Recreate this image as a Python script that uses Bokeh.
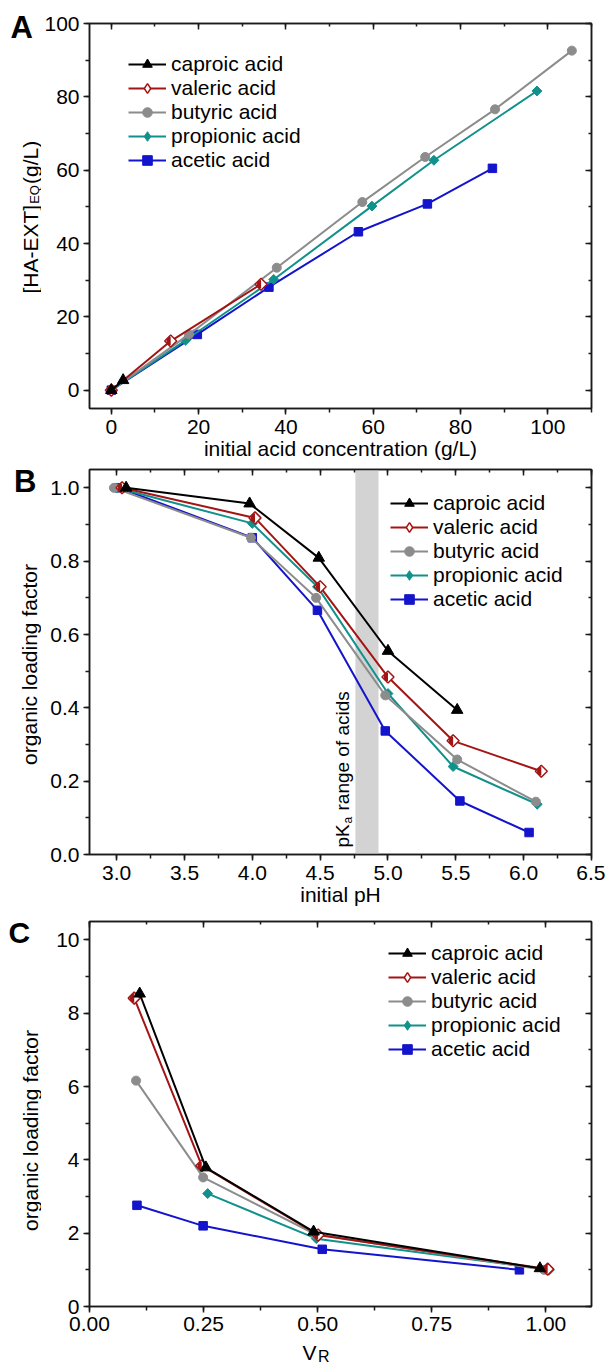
import math
from bokeh.plotting import figure
from bokeh.models import (ColumnDataSource, LinearAxis, SingleIntervalTicker, NumeralTickFormatter,
                          CustomJSTickFormatter, Legend, LegendItem, Label, BoxAnnotation, Range1d)
from bokeh.layouts import column, row
from bokeh.embed import file_html
from bokeh.resources import INLINE

FONT = "Liberation Sans"

# ---------------- series names / colours ----------------
names = ["caproic acid", "valeric acid", "butyric acid", "propionic acid", "acetic acid"]
colors = ["#000000", "#a31515", "#8c8c8c", "#11918b", "#1414cc"]
kinds = ["triangle", "half", "circle", "diamond", "square"]

# ---------------- Panel A ----------------
a_caproic_x = [0.0, 2.7]
a_caproic_y = [0.0, 2.7]
a_valeric_x = [0.0, 13.6, 34.3]
a_valeric_y = [0.0, 13.4, 28.9]
a_butyric_x = [0.0, 17.8, 37.9, 57.5, 71.9, 87.9, 105.5]
a_butyric_y = [0.0, 15.2, 33.4, 51.3, 63.6, 76.6, 92.6]
a_propionic_x = [0.0, 17.0, 37.2, 59.7, 73.9, 97.5]
a_propionic_y = [0.0, 13.6, 30.2, 50.2, 62.7, 81.6]
a_acetic_x = [0.0, 19.7, 36.1, 56.6, 72.4, 87.3]
a_acetic_y = [0.0, 15.2, 28.1, 43.2, 50.8, 60.5]

# ---------------- Panel B ----------------
b_caproic_x = [3.07, 3.98, 4.49, 5.00, 5.51]
b_caproic_y = [1.0, 0.957, 0.809, 0.555, 0.394]
b_valeric_x = [3.04, 4.02, 4.50, 5.00, 5.48, 6.13]
b_valeric_y = [1.0, 0.918, 0.730, 0.484, 0.310, 0.227]
b_butyric_x = [2.98, 3.99, 4.47, 4.98, 5.51, 6.09]
b_butyric_y = [1.0, 0.864, 0.700, 0.434, 0.259, 0.144]
b_propionic_x = [3.00, 4.00, 4.48, 5.00, 5.48, 6.10]
b_propionic_y = [1.0, 0.903, 0.730, 0.439, 0.240, 0.137]
b_acetic_x = [3.02, 4.00, 4.48, 4.98, 5.53, 6.04]
b_acetic_y = [1.0, 0.864, 0.666, 0.337, 0.146, 0.060]
pka_band = [4.76, 4.93]

# ---------------- Panel C ----------------
c_caproic_x = [0.110, 0.255, 0.491, 0.987]
c_caproic_y = [8.53, 3.79, 2.04, 1.04]
c_valeric_x = [0.098, 0.246, 0.501, 1.004]
c_valeric_y = [8.41, 3.84, 1.95, 1.02]
c_butyric_x = [0.102, 0.249, 0.495, 0.996]
c_butyric_y = [6.16, 3.52, 1.97, 1.00]
c_propionic_x = [0.259, 0.497, 1.008]
c_propionic_y = [3.08, 1.85, 1.00]
c_acetic_x = [0.104, 0.249, 0.510, 0.942]
c_acetic_y = [2.76, 2.20, 1.56, 1.00]

panel_a = [(a_caproic_x, a_caproic_y), (a_valeric_x, a_valeric_y), (a_butyric_x, a_butyric_y),
           (a_propionic_x, a_propionic_y), (a_acetic_x, a_acetic_y)]
panel_b = [(b_caproic_x, b_caproic_y), (b_valeric_x, b_valeric_y), (b_butyric_x, b_butyric_y),
           (b_propionic_x, b_propionic_y), (b_acetic_x, b_acetic_y)]
panel_c = [(c_caproic_x, c_caproic_y), (c_valeric_x, c_valeric_y), (c_butyric_x, c_butyric_y),
           (c_propionic_x, c_propionic_y), (c_acetic_x, c_acetic_y)]

FW, FH = 502, 385
AUXW = 41
LEFT = 45
RIGHT = 608 - AUXW - LEFT - FW - 3
AX_COLOR = "#1a1a1a"
R90 = math.pi / 2
NAN = float("nan")


def style_axis(ax, fmt, standoff):
    ax.axis_line_color = AX_COLOR
    ax.axis_line_width = 1.5
    ax.major_tick_line_color = AX_COLOR
    ax.major_tick_line_width = 1.5
    ax.minor_tick_line_color = AX_COLOR
    ax.minor_tick_line_width = 1.5
    ax.major_tick_out = 6
    ax.major_tick_in = 0
    ax.minor_tick_out = 4
    ax.minor_tick_in = 0
    ax.major_label_text_font = FONT
    ax.major_label_text_font_size = "21px"
    ax.major_label_text_color = "black"
    ax.major_label_standoff = standoff
    ax.formatter = NumeralTickFormatter(format=fmt)


def mirror(p, side, interval):
    ax = LinearAxis(ticker=SingleIntervalTicker(interval=interval, num_minor_ticks=2),
                    formatter=CustomJSTickFormatter(code="return ''"))
    ax.axis_line_color = AX_COLOR
    ax.axis_line_width = 1.5
    ax.major_tick_line_color = AX_COLOR
    ax.major_tick_line_width = 1.5
    ax.minor_tick_line_color = AX_COLOR
    ax.minor_tick_line_width = 1.5
    ax.major_tick_in = 6
    ax.major_tick_out = 0
    ax.minor_tick_in = 3
    ax.minor_tick_out = 0
    ax.major_label_text_font_size = "1px"
    ax.major_label_standoff = 0
    p.add_layout(ax, side)


def make_fig(xr, yr, xint, yint, xfmt, yfmt, top, bottom, xstand=5, xlabel=None):
    p = figure(frame_width=FW, frame_height=FH, x_range=Range1d(*xr), y_range=Range1d(*yr),
               min_border_left=LEFT, min_border_right=RIGHT, min_border_top=top,
               min_border_bottom=bottom, output_backend="svg", toolbar_location=None, tools="")
    p.xgrid.visible = False
    p.ygrid.visible = False
    p.outline_line_color = AX_COLOR
    p.outline_line_width = 1.5
    p.background_fill_color = "white"
    p.border_fill_color = "white"
    p.xaxis.ticker = SingleIntervalTicker(interval=xint, num_minor_ticks=2)
    p.yaxis.ticker = SingleIntervalTicker(interval=yint, num_minor_ticks=2)
    style_axis(p.below[0], xfmt, xstand)
    style_axis(p.left[0], yfmt, 4)
    if xlabel:
        ax = p.below[0]
        ax.axis_label = xlabel
        ax.axis_label_text_font = FONT
        ax.axis_label_text_font_size = "21px"
        ax.axis_label_text_font_style = "normal"
        ax.axis_label_text_color = "black"
        ax.axis_label_standoff = 0
    mirror(p, "above", xint)
    mirror(p, "right", yint)
    return p


def draw_series(p, xs, ys, kind, color):
    src = ColumnDataSource(dict(x=xs, y=ys))
    p.line("x", "y", source=src, line_color=color, line_width=2)
    if kind == "triangle":
        p.scatter("x", "y", source=src, marker="triangle", size=11.5, fill_color=color, line_color=color)
    elif kind == "half":
        p.scatter("x", "y", source=src, marker="square", angle=math.pi / 4, size=8.5,
                  fill_color="white", line_color=None)
        p.wedge("x", "y", source=src, radius=4.3, radius_units="screen",
                start_angle=math.pi / 2, end_angle=3 * math.pi / 2,
                fill_color=color, line_color=None)
        p.scatter("x", "y", source=src, marker="square", angle=math.pi / 4, size=8.5,
                  fill_color=None, line_color=color, line_width=1.5)
    elif kind == "circle":
        p.scatter("x", "y", source=src, marker="circle", size=9, fill_color=color, line_color=color)
    elif kind == "diamond":
        p.scatter("x", "y", source=src, marker="square", angle=math.pi / 4, size=7,
                  fill_color=color, line_color=color)
    else:
        p.scatter("x", "y", source=src, marker="square", size=8.5, fill_color=color, line_color=color)


def legend_glyphs(p, kind, color):
    # one off-scale (NaN) point per entry: only used to draw the legend samples
    src = ColumnDataSource(dict(x=[NAN], y=[NAN]))
    rs = [p.line("x", "y", source=src, line_color=color, line_width=2)]
    marker = {"triangle": "triangle", "half": "diamond", "circle": "circle",
              "diamond": "diamond", "square": "square"}[kind]
    if kind == "half":
        rs.append(p.scatter("x", "y", source=src, marker=marker, fill_color="white",
                            line_color=color, line_width=1.5))
    else:
        rs.append(p.scatter("x", "y", source=src, marker=marker, fill_color=color, line_color=color))
    return rs


def add_series(p, data, loc):
    for i in [4, 3, 2, 1, 0]:
        xs, ys = data[i]
        draw_series(p, xs, ys, kinds[i], colors[i])
    items = [LegendItem(label=names[i], renderers=legend_glyphs(p, kinds[i], colors[i])) for i in range(5)]
    legend = Legend(items=items, location=loc, padding=0, spacing=0, margin=0,
                    glyph_width=38, glyph_height=24, label_standoff=5,
                    label_text_font=FONT, label_text_font_size="21px", label_text_color="black",
                    border_line_alpha=0, background_fill_alpha=0)
    p.add_layout(legend)


def lab(p, text, x, y, size="21px", angle=0.0, align="left", baseline="middle",
        bold=False, xu="screen", yu="screen", xo=0, yo=0):
    p.add_layout(Label(x=x, y=y, x_units=xu, y_units=yu, text=text, angle=angle,
                       text_align=align, text_baseline=baseline, text_font=FONT,
                       text_font_size=size, text_color="black", x_offset=xo, y_offset=yo,
                       text_font_style="bold" if bold else "normal"))


def aux_fig(w, h):
    f = figure(width=w, height=h, x_range=Range1d(0, w), y_range=Range1d(0, h), min_border=0,
               x_axis_type=None, y_axis_type=None, output_backend="svg", title=None,
               toolbar_location=None, tools="")
    f.outline_line_color = None
    f.background_fill_color = "white"
    f.border_fill_color = "white"
    return f


# ---------------- Panel A ----------------
TA, BA = 23, 58
pA = make_fig((-5, 110), (-5, 100), 20, 20, "0", "0", TA, BA,
              xlabel="initial acid concentration (g/L)")
add_series(pA, panel_a, (39, 236))

# ---------------- Panel B ----------------
TB, BB = 3, 58
pB = make_fig((2.8, 6.5), (0, 1.05), 0.5, 0.2, "0.0", "0.0", TB, BB, xlabel="initial pH")
pB.add_layout(BoxAnnotation(left=pka_band[0], right=pka_band[1], fill_color="#d3d3d3",
                            fill_alpha=1.0, line_alpha=0, level="underlay"))
add_series(pB, panel_b, (301, 243))
lab(pB, "pK", 4.667, 0, size="19px", angle=R90, xu="data", yu="data", yo=7)
lab(pB, "a", 4.667, 0, size="12px", angle=R90, xu="data", yu="data", xo=5, yo=31)
lab(pB, "range of acids", 4.667, 0, size="19px", angle=R90, xu="data", yu="data", yo=44)

# ---------------- Panel C ----------------
TC, BC = 9, 34
pC = make_fig((0, 1.1), (0, 10.5), 0.25, 2, "0.00", "0", TC, BC, xstand=4)
add_series(pC, panel_c, (299, 245))

HA = TA + FH + BA
HB = TB + FH + BB
HC = TC + FH + BC
HL = HA + HB + HC

# left strip: panel letters and y-axis titles (y measured up from the strip bottom)
auxL = aux_fig(AUXW, HL)
lab(auxL, "A", 10, HL - 26.5, size="31px", bold=True)
lab(auxL, "[HA-EXT]", 30, HL - 293, angle=R90)
lab(auxL, "EQ", 34, HL - 203.3, size="13px", angle=R90)
lab(auxL, "(g/L)", 30, HL - 183.5, angle=R90)
lab(auxL, "B", 13.5, HL - 480.9, size="31px", bold=True)
lab(auxL, "organic loading factor", 29, HL - 664, angle=R90, align="center")
lab(auxL, "C", 8, HL - 932.4, size="30px", bold=True)
lab(auxL, "organic loading factor", 29.5, HL - 1130, angle=R90, align="center")

# bottom strip with the V_R axis title
HV = 1365 - HL
auxV = aux_fig(605, HV)
lab(auxV, "V", 302, 13.0, size="21px")
lab(auxV, "R", 317.5, 9.2, size="16px")

layout = column(row(auxL, column(pA, pB, pC)), auxV)
open("out.html", "w").write(file_html(layout, INLINE))
